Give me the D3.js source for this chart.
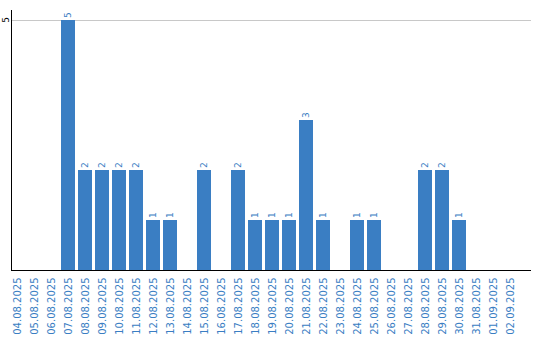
<!DOCTYPE html>
<html><head><meta charset="utf-8">
<script src="https://cdn.jsdelivr.net/npm/d3@7"></script>
<style>body{margin:0;background:#fff}svg{display:block}</style>
</head><body>
<script>
const dates = ["04.08.2025","05.08.2025","06.08.2025","07.08.2025","08.08.2025","09.08.2025","10.08.2025","11.08.2025","12.08.2025","13.08.2025","14.08.2025","15.08.2025","16.08.2025","17.08.2025","18.08.2025","19.08.2025","20.08.2025","21.08.2025","22.08.2025","23.08.2025","24.08.2025","25.08.2025","26.08.2025","27.08.2025","28.08.2025","29.08.2025","30.08.2025","31.08.2025","01.09.2025","02.09.2025"];
const counts = [0,0,0,5,2,2,2,2,1,1,0,2,0,2,1,1,1,3,1,0,1,1,0,0,2,2,1,0,0,0];
const yTicks = [5];

const W = 540, H = 340;
const blue = "#3a7ec3";
const svg = d3.select("body").append("svg").attr("width", W).attr("height", H);

const x = d3.scaleBand().domain(dates).range([8.5, 518.5]).paddingInner(3/17).paddingOuter(1.5/17);
const y = d3.scaleLinear().domain([0, 5]).range([270, 20]);

// gridlines
svg.append("g").selectAll("line").data(yTicks).join("line")
  .attr("x1", 11).attr("x2", 531)
  .attr("y1", d => y(d) + 0.5).attr("y2", d => y(d) + 0.5)
  .attr("stroke", "#c8c8c8").attr("stroke-width", 1);

// bars
const data = dates.map((d, i) => ({d, v: counts[i]}));
svg.append("g").selectAll("rect").data(data.filter(e => e.v > 0)).join("rect")
  .attr("x", e => x(e.d)).attr("width", x.bandwidth())
  .attr("y", e => y(e.v)).attr("height", e => y(0) - y(e.v))
  .attr("fill", blue);

// value labels
svg.append("g").selectAll("text").data(data.filter(e => e.v > 0)).join("text")
  .attr("transform", e => `translate(${x(e.d) + x.bandwidth()/2 + 3},${y(e.v) - 2}) rotate(-90)`)
  .attr("font-family", "DejaVu Sans").attr("font-size", 9)
  .attr("fill", blue).text(e => e.v);

// y axis
const yAxis = svg.append("g").attr("transform", "translate(11.5,0)");
yAxis.append("line").attr("x1", 0).attr("x2", 0).attr("y1", 10).attr("y2", 270).attr("stroke", "#000");
yAxis.selectAll("text").data(yTicks).join("text")
  .attr("transform", d => `translate(-3,${y(d)}) rotate(-90)`)
  .attr("text-anchor", "middle")
  .attr("font-family", "DejaVu Sans").attr("font-size", 9).attr("fill", "#000")
  .text(d => d);

// x axis
const xAxis = svg.append("g").attr("transform", "translate(0,270.5)");
xAxis.append("line").attr("x1", 11).attr("x2", 531).attr("stroke", "#000");
xAxis.selectAll("text").data(dates).join("text")
  .attr("transform", d => `translate(${x(d) + x.bandwidth()/2 + 3.5},7) rotate(-90)`)
  .attr("text-anchor", "end")
  .attr("font-family", "DejaVu Sans").attr("font-size", 10).attr("fill", blue)
  .text(d => d);
</script>
</body></html>
